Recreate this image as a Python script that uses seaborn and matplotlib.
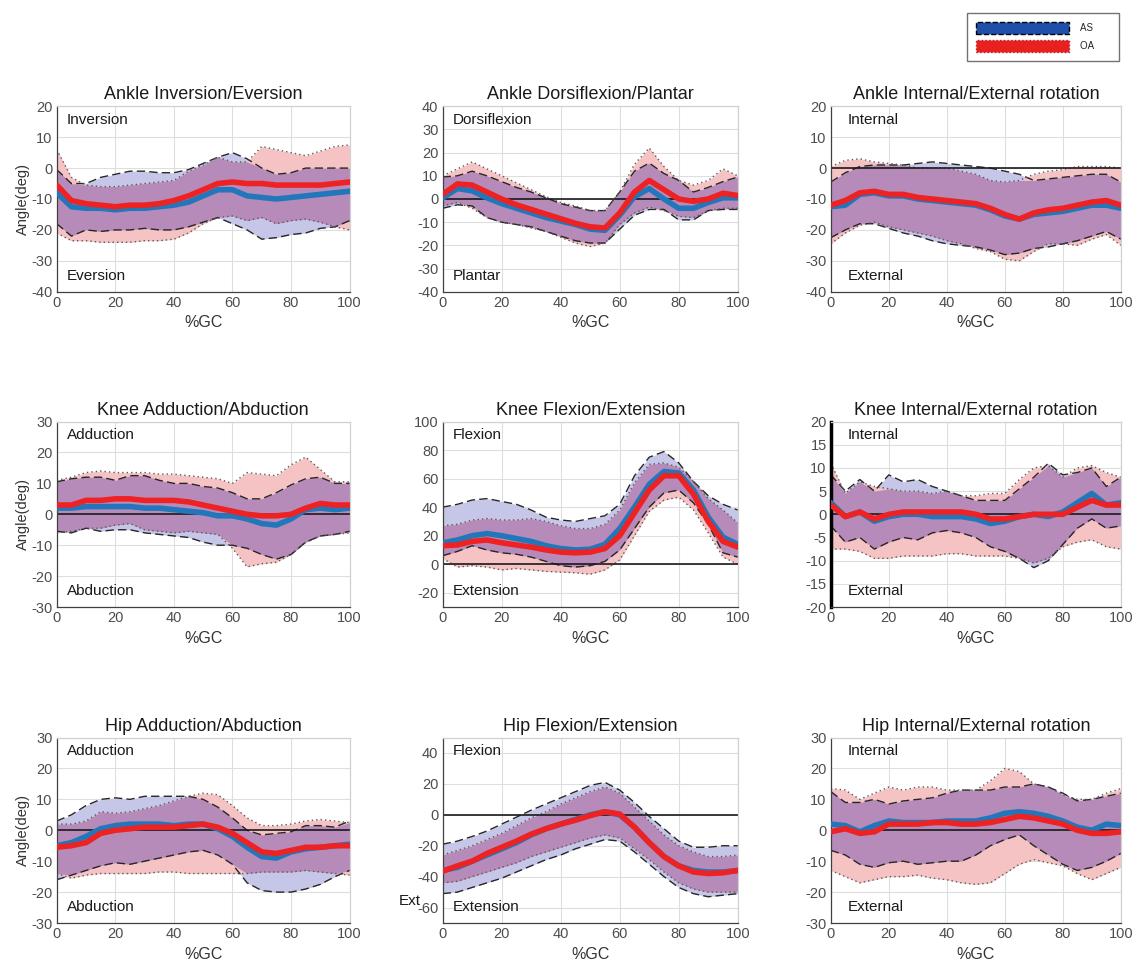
import numpy as np
import matplotlib
matplotlib.use('Agg')
import matplotlib.pyplot as plt
import matplotlib.transforms as mtransforms
from matplotlib.patches import Patch
import seaborn as sns

sns.set_theme(style='white')
plt.rcParams['font.family'] = ['Liberation Sans', 'DejaVu Sans']
plt.rcParams['axes.unicode_minus'] = False

pct = [0, 5, 10, 15, 20, 25, 30, 35, 40, 45, 50, 55, 60, 65, 70, 75, 80, 85, 90, 95, 100]

# Ankle inversion / eversion
aie_as_mean = [-8, -12.5, -13, -13, -13.5, -13, -13, -12.5, -12, -11, -9, -7, -7, -9, -9.5, -10, -9.5, -9, -8.5, -8, -7.5]
aie_as_hi = [-0.5, -5, -5, -3, -2, -1, -1, -1.5, -1.5, -0.5, 1.5, 3.5, 5, 3, 0, -2, -1.5, 0, 0, 0, 0]
aie_as_lo = [-18, -22, -20, -20.5, -20, -20, -19.5, -20, -20, -19, -17.5, -16, -18, -20, -23, -22.5, -21.5, -21, -19.5, -19, -17]
aie_oa_mean = [-5.5, -10.5, -11.5, -12, -12.5, -12, -12, -11.5, -10.5, -9, -7, -5, -4.5, -5, -5, -5.5, -5.5, -5.5, -5.5, -5, -4.5]
aie_oa_hi = [6, -3, -5.5, -6, -6, -5.5, -5, -4.5, -4, -1, 1, 3.5, 2, 2, 7, 6, 5, 4, 5.5, 7, 7.5]
aie_oa_lo = [-21, -23.5, -23.5, -24, -24, -24, -23.5, -23.5, -23, -21, -18, -16, -15.5, -17, -16, -18, -17, -16.5, -17.5, -19, -20]

# Ankle dorsiflexion / plantar
adp_as_mean = [0.5, 4.5, 3.5, 0.5, -2, -4, -6, -8, -9.5, -11, -13, -13.5, -7, 1, 4.5, 0, -4, -4, -1.5, 0.5, 0.5]
adp_as_hi = [9.5, 10, 12, 10, 7.5, 5, 3, 0.5, -2, -3.5, -5, -5, 3, 12, 15.5, 11, 8, 3, 5, 7.5, 9.5]
adp_as_lo = [-4, -2.5, -3, -8, -10, -11, -12, -14, -16, -18, -19, -19, -13, -7, -4.5, -4.5, -9, -9, -5, -4.5, -4.5]
adp_oa_mean = [2, 6.5, 6, 3, 0, -2.5, -4.5, -6.5, -8.5, -10.5, -12, -12.5, -6, 3, 8, 4, 0, -1, 0, 2.5, 1.5]
adp_oa_hi = [10, 13, 16, 13, 10, 7, 4, 1, -1.5, -3, -5, -5, 3, 15, 22, 14, 8, 6, 8, 13, 10]
adp_oa_lo = [-3, -1.5, -4, -8, -10, -11, -12.5, -14, -16.5, -19, -20.5, -19, -11, -6, -3.5, -5, -7.5, -8, -5, -4, -4]

# Ankle internal / external rotation
air_as_mean = [-12.5, -12, -8.5, -8, -9, -9, -10, -10.5, -11, -11.5, -12, -13.5, -15.5, -16.5, -15, -14.5, -14, -13, -12, -12, -13]
air_as_hi = [-4.5, -1.5, 0.5, 1, 1, 1, 1.5, 2, 1.5, 1, 0.5, 0, -1, -2, -4, -3.5, -3, -2.5, -2, -2, -4.5]
air_as_lo = [-22.5, -20, -18, -18, -19.5, -21, -22, -23.5, -24.5, -25, -25.5, -26.5, -28, -27.5, -26, -25.5, -24.5, -23.5, -22, -20.5, -23]
air_oa_mean = [-12, -10.5, -8, -7.5, -8.5, -8.5, -9.5, -10, -10.5, -11, -11.5, -13, -15, -16.5, -14.5, -13.5, -13, -12, -11, -10.5, -12]
air_oa_hi = [0.5, 2.5, 3, 2, 1.5, 1, 0, 0, 0, -1, -2, -4, -4.5, -4, -2, -1, -0.5, 0.5, 0.5, 0.5, 0]
air_oa_lo = [-24.5, -21, -18.5, -17.5, -19, -20, -21, -22, -23.5, -24.5, -26, -27, -29.5, -30, -27, -24.5, -24.5, -25, -23, -21.5, -25]

# Knee adduction / abduction
kaa_as_mean = [2, 2, 2.5, 2.5, 2.5, 2.5, 2, 2, 1.5, 1, 0.5, -0.5, -0.5, -1.5, -3, -3.5, -1.5, 1.5, 2, 1.5, 2]
kaa_as_hi = [10.5, 11.5, 12, 12, 11, 12.5, 12.5, 11, 10, 10, 9, 8.5, 7, 5, 5, 7, 9.5, 11.5, 12, 10, 10]
kaa_as_lo = [-5.5, -6, -4.5, -5.5, -5, -5, -6, -6.5, -7, -7.5, -9, -10, -10, -11, -13, -14.5, -13, -9, -7, -6.5, -5.5]
kaa_oa_mean = [3, 3, 4.5, 4.5, 5, 5, 4.5, 4.5, 4.5, 4, 3, 2, 1, 0, -0.5, -0.5, 0, 2, 3.5, 3, 3]
kaa_oa_hi = [11, 12, 13.5, 14, 13.5, 13.5, 13.5, 13, 13, 12.5, 12, 11.5, 10, 13.5, 13, 12.5, 16, 18.5, 14.5, 10.5, 10.5]
kaa_oa_lo = [-6, -5.5, -4.5, -4.5, -3.5, -3, -5, -5.5, -6, -5.5, -6, -6.5, -11, -17, -16, -15.5, -13, -9, -7, -6.5, -6]

# Knee flexion / extension
kfe_as_mean = [15, 17, 20, 21.5, 20, 18, 16, 13, 11, 10, 10.5, 14, 25, 40, 56, 65, 64, 52, 33, 19, 14]
kfe_as_hi = [40, 42, 45, 46, 44, 42, 38, 33, 31, 30, 32, 34, 42, 62, 75, 79, 71, 58, 48, 42, 38]
kfe_as_lo = [6, 9, 13, 10, 8, 7, 5, 2, -1, -2, -1, 2, 10, 25, 40, 50, 52, 43, 28, 8, 5]
kfe_oa_mean = [13, 13.5, 16, 17, 15, 13.5, 12, 10, 8.5, 8, 8.5, 11, 20, 36, 52, 62, 62, 49, 30, 16, 12]
kfe_oa_hi = [27, 28, 31, 32, 31, 31, 32, 30, 27, 25, 25, 28, 38, 57, 70, 71, 68, 58, 46, 38, 29]
kfe_oa_lo = [4, -2, -1, -2, -4, -3, -4, -5, -5.5, -6, -7, -4, 3, 20, 37, 45, 47, 38, 22, 5, 0]

# Knee internal / external rotation
kir_as_mean = [2.5, -0.5, 0.5, -1.5, -0.5, 0, 0, -0.5, -0.5, -0.5, -1, -2, -1.5, -0.5, 0, -0.5, 0.5, 2.5, 4.5, 2, 2.5]
kir_as_hi = [8.5, 5, 7.5, 5, 8.5, 7, 7.5, 6, 5, 4, 3, 3, 3, 5.5, 8, 11, 8.5, 9, 10, 6, 8]
kir_as_lo = [-2.5, -6, -5, -7.5, -6, -5, -5.5, -4, -3.5, -4, -5, -7, -8, -9.5, -11.5, -10, -6.5, -3, -1, -3, -2.5]
kir_oa_mean = [2, -0.5, 0.5, -1, 0, 0.5, 0.5, 0.5, 0.5, 0.5, 0, -1, -1, -0.5, 0, 0, 0, 1.5, 3, 2, 2]
kir_oa_hi = [11, 4.5, 7, 6, 5.5, 5, 5, 4.5, 5, 4, 4, 4.5, 4.5, 7.5, 10, 10.5, 8, 10, 10.5, 9, 8]
kir_oa_lo = [-7.5, -7.5, -8, -9.5, -9.5, -9, -9, -9, -8.5, -8.5, -9, -9, -9, -9.5, -10.5, -9.5, -7, -6, -5.5, -7, -7.5]

# Hip adduction / abduction
haa_as_mean = [-5, -4, -2, 0.5, 1.5, 2, 2, 2, 1.5, 2, 2, 0.5, -2, -5.5, -8.5, -9, -7, -6, -5.5, -5, -4.5]
haa_as_hi = [3, 5, 8, 10, 10.5, 10, 11, 11, 11, 11, 10, 7.5, 4, 0, -1.5, -1, -0.5, 1.5, 1.5, 1, 3]
haa_as_lo = [-16, -14.5, -13, -11.5, -10.5, -11, -10, -9, -8, -7, -6.5, -8, -11, -17, -19.5, -20, -20, -19, -17.5, -15, -13]
haa_oa_mean = [-5.5, -5, -4, -1, 0, 0.5, 1, 1, 1, 1.5, 2, 1, -1, -4, -7, -7.5, -6.5, -5.5, -5.5, -5, -5]
haa_oa_hi = [2, 2, 3, 6, 5.5, 6, 7, 8, 9.5, 11, 12, 11.5, 8, 4, 1.5, 1.5, 2, 3, 3.5, 3, 2.5]
haa_oa_lo = [-14, -15.5, -14.5, -14, -14, -14, -14, -13.5, -13.5, -14, -14, -14, -14, -14, -13.5, -13.5, -13.5, -13, -13.5, -14, -14.5]

# Hip flexion / extension
hfe_as_mean = [-36, -34, -30, -26, -22, -18, -13, -9, -6, -3, 0, 2, 0, -8, -18, -27, -33, -36, -37, -37, -36]
hfe_as_hi = [-19, -17, -14, -10.5, -6, -1.5, 3, 7, 11, 15, 19, 21, 16, 8, -1, -9, -17, -21, -21, -20, -20]
hfe_as_lo = [-51, -50, -47, -44, -41, -37, -33, -29, -26, -22, -19, -16, -17, -24, -32, -40, -47, -51, -53, -52, -51]
hfe_oa_mean = [-36.5, -33, -30, -25, -21, -17, -12.5, -9, -6, -3.5, -0.5, 2, 0.5, -8, -18, -27, -33, -37, -38, -37.5, -36]
hfe_oa_hi = [-26, -23, -20, -16, -12, -7, -2, 2, 7, 11, 15, 18, 14, 5, -4, -13, -20, -24, -27, -27, -26]
hfe_oa_lo = [-44, -43, -40, -37, -34, -31, -27, -24, -21, -18, -15, -13, -15, -22, -29, -37, -44, -48, -50, -50, -50]

# Hip internal / external rotation
hir_as_mean = [2, 1.5, -0.5, 1.5, 3, 2.5, 2.5, 2.5, 3, 3, 3, 4, 5.5, 6, 5.5, 4.5, 3, 1, 0, 2, 1.5]
hir_as_hi = [12.5, 9, 9, 10, 8.5, 9.5, 10, 10.5, 12, 13, 13, 13, 14, 14, 15, 14, 12, 9.5, 10, 11, 12]
hir_as_lo = [-6.5, -8, -11, -12, -10.5, -10, -11, -10.5, -10, -10, -8, -5, -3, -1.5, -5, -8, -11, -13, -12, -10, -7.5]
hir_oa_mean = [-0.5, 0.5, -1, -0.5, 2, 2, 2, 2.5, 2.5, 2, 2, 2.5, 3.5, 4.5, 4, 3, 2, 0, -1, -1, -0.5]
hir_oa_hi = [13.5, 13, 10, 12, 14, 13, 14, 14, 13, 13, 13, 16, 20, 19, 15, 14, 11.5, 10, 10, 12, 13.5]
hir_oa_lo = [-13, -15, -17, -16, -15, -15, -14.5, -15.5, -16, -17, -17.5, -17, -14, -11, -9.5, -10.5, -11.5, -14, -16, -14, -12]

titles = ['Ankle Inversion/Eversion', 'Ankle Dorsiflexion/Plantar', 'Ankle Internal/External rotation',
          'Knee Adduction/Abduction', 'Knee Flexion/Extension', 'Knee Internal/External rotation',
          'Hip Adduction/Abduction', 'Hip Flexion/Extension', 'Hip Internal/External rotation']
top_labels = ['Inversion', 'Dorsiflexion', 'Internal', 'Adduction', 'Flexion', 'Internal',
              'Adduction', 'Flexion', 'Internal']
bottom_labels = ['Eversion', 'Plantar', 'External', 'Abduction', 'Extension', 'External',
                 'Abduction', 'Extension', 'External']

series = [
    (aie_as_mean, aie_as_hi, aie_as_lo, aie_oa_mean, aie_oa_hi, aie_oa_lo),
    (adp_as_mean, adp_as_hi, adp_as_lo, adp_oa_mean, adp_oa_hi, adp_oa_lo),
    (air_as_mean, air_as_hi, air_as_lo, air_oa_mean, air_oa_hi, air_oa_lo),
    (kaa_as_mean, kaa_as_hi, kaa_as_lo, kaa_oa_mean, kaa_oa_hi, kaa_oa_lo),
    (kfe_as_mean, kfe_as_hi, kfe_as_lo, kfe_oa_mean, kfe_oa_hi, kfe_oa_lo),
    (kir_as_mean, kir_as_hi, kir_as_lo, kir_oa_mean, kir_oa_hi, kir_oa_lo),
    (haa_as_mean, haa_as_hi, haa_as_lo, haa_oa_mean, haa_oa_hi, haa_oa_lo),
    (hfe_as_mean, hfe_as_hi, hfe_as_lo, hfe_oa_mean, hfe_oa_hi, hfe_oa_lo),
    (hir_as_mean, hir_as_hi, hir_as_lo, hir_oa_mean, hir_oa_hi, hir_oa_lo),
]

ylims = [(-40, 20), (-40, 40), (-40, 20), (-30, 30), (-30, 100), (-20, 20), (-30, 30), (-70, 50), (-30, 30)]
yticks = [np.arange(-40, 21, 10), np.arange(-40, 41, 10), np.arange(-40, 21, 10),
          np.arange(-30, 31, 10), np.arange(-20, 101, 20), np.arange(-20, 21, 5),
          np.arange(-30, 31, 10), np.arange(-60, 41, 20), np.arange(-30, 31, 10)]
zero_line = [False, True, True, True, True, True, True, True, True]

as_fill = '#c6c6e8'
oa_fill = '#f5c3c3'
both_fill = '#b68bb9'
as_line = '#2277bb'
oa_line = '#ee2222'

fig = plt.figure(figsize=(11.35, 9.66), dpi=100)
lefts = [0.050, 0.390, 0.732]
widths = [0.258, 0.260, 0.2555]
bottoms = [0.698, 0.3716, 0.0445]
height = 0.192

x = np.array(pct)
for i in range(9):
    r, c = divmod(i, 3)
    ax = fig.add_axes([lefts[c], bottoms[r], widths[c], height])
    am, ah, al, om, oh, ol = [np.array(s, dtype=float) for s in series[i]]

    ax.fill_between(x, al, ah, color=as_fill, lw=0, zorder=1)
    ax.fill_between(x, ol, oh, color=oa_fill, lw=0, zorder=1.1)
    lo = np.maximum(al, ol)
    hi = np.minimum(ah, oh)
    ax.fill_between(x, lo, hi, where=hi > lo, interpolate=True, color=both_fill, lw=0, zorder=1.2)

    ax.plot(x, ah, color='0.15', ls=(0, (6, 3)), lw=1.0, zorder=2)
    ax.plot(x, al, color='0.15', ls=(0, (6, 3)), lw=1.0, zorder=2)
    ax.plot(x, oh, color='0.35', ls=(0, (1, 2.2)), lw=1.0, zorder=2)
    ax.plot(x, ol, color='0.35', ls=(0, (1, 2.2)), lw=1.0, zorder=2)

    if zero_line[i]:
        ax.axhline(0, color='0.1', lw=1.2, zorder=2.5)

    sns.lineplot(x=x, y=am, ax=ax, color=as_line, lw=4, zorder=3,
                 solid_joinstyle='round', solid_capstyle='round')
    sns.lineplot(x=x, y=om, ax=ax, color=oa_line, lw=4, zorder=3.1,
                 solid_joinstyle='round', solid_capstyle='round')

    ax.set_xlim(0, 100)
    ax.set_ylim(*ylims[i])
    ax.set_xticks([0, 20, 40, 60, 80, 100])
    ax.set_yticks(yticks[i])
    ax.grid(True, color='0.87', lw=0.8, zorder=0)
    ax.set_axisbelow(True)
    ax.tick_params(direction='in', length=3, labelsize=10.5, labelcolor='0.3', color='0.3', pad=3)
    for side in ['left', 'bottom']:
        ax.spines[side].set_color('0.25')
        ax.spines[side].set_linewidth(0.9)
    for side in ['top', 'right']:
        ax.spines[side].set_color('0.82')
        ax.spines[side].set_linewidth(0.9)
    if i == 5:
        ax.spines['left'].set_color('black')
        ax.spines['left'].set_linewidth(2.5)

    ax.set_title(titles[i], fontsize=13, pad=5, color='0.1')
    ax.set_xlabel('%GC', fontsize=11.5, color='0.2', labelpad=4)
    if c == 0:
        ax.set_ylabel('Angle(deg)', fontsize=10.5, color='0.2', labelpad=1)
    else:
        ax.set_ylabel('')

    tx = 0.057 if c == 2 else 0.035
    ax.text(tx, 0.925, top_labels[i], transform=ax.transAxes, fontsize=11, va='center', ha='left', color='0.1')
    ax.text(tx, 0.085, bottom_labels[i], transform=ax.transAxes, fontsize=11, va='center', ha='left', color='0.1')

    if i == 7:
        trans = mtransforms.blended_transform_factory(ax.transAxes, ax.transData)
        ax.text(-0.075, -56, 'Ext', transform=trans, fontsize=11, ha='right', va='center', color='0.1')

handles = [Patch(facecolor='#1f4fa8', edgecolor='black', linestyle='--', linewidth=1),
           Patch(facecolor='#e82020', edgecolor='#aa2222', linestyle=':', linewidth=1)]
fig.legend(handles, ['AS      ', 'OA      '], loc='upper right', bbox_to_anchor=(1124 / 1135, 1 - 8 / 966),
           fontsize=7, handlelength=9.5, handleheight=1.6, handletextpad=1.2, fancybox=False,
           edgecolor='0.45', framealpha=1, borderpad=0.9, labelspacing=0.6)

fig.savefig('out.png', dpi=100)
